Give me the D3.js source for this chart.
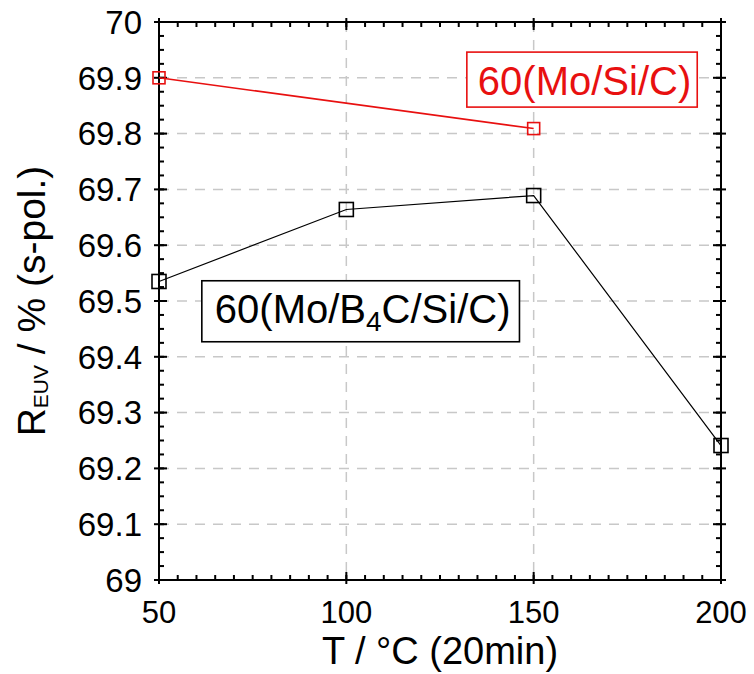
<!DOCTYPE html>
<html>
<head>
<meta charset="utf-8">
<script src="https://cdn.jsdelivr.net/npm/d3@7"></script>
<style>
  html, body { margin: 0; padding: 0; background: #fff; }
  svg { display: block; }
  text { font-family: "Liberation Sans", Arial, sans-serif; }
</style>
</head>
<body>
<script>
// ---- data ----
const moSiC = [
  { t: 50, r: 69.90 },
  { t: 150, r: 69.809 }
];
const moB4CSiC = [
  { t: 50, r: 69.535 },
  { t: 100, r: 69.664 },
  { t: 150, r: 69.689 },
  { t: 200, r: 69.241 }
];
const xTicks = [50, 100, 150, 200];
const yTicks = [69, 69.1, 69.2, 69.3, 69.4, 69.5, 69.6, 69.7, 69.8, 69.9, 70];
const yTickLabels = ["69", "69.1", "69.2", "69.3", "69.4", "69.5", "69.6", "69.7", "69.8", "69.9", "70"];

const W = 754, H = 674;
const margin = { left: 159, right: 33, top: 22, bottom: 94 };
const svg = d3.select("body").append("svg").attr("width", W).attr("height", H);

const x = d3.scaleLinear().domain([50, 200]).range([margin.left, W - margin.right]);
const y = d3.scaleLinear().domain([69, 70]).range([H - margin.bottom, margin.top]);
const x0 = x.range()[0], x1 = x.range()[1], y0 = y.range()[0], y1 = y.range()[1];

// gridlines
const grid = svg.append("g");
grid.selectAll("line.gx").data(xTicks.filter(d => d > 50 && d < 200)).join("line")
  .attr("x1", d => x(d)).attr("x2", d => x(d)).attr("y1", y1).attr("y2", y0)
  .attr("stroke", "#c8c8c8").attr("stroke-width", 1.5).attr("stroke-dasharray", "10,8");
grid.selectAll("line.gy").data(yTicks.filter(d => d > 69 && d < 70)).join("line")
  .attr("y1", d => y(d)).attr("y2", d => y(d)).attr("x1", x0).attr("x2", x1)
  .attr("stroke", "#c8c8c8").attr("stroke-width", 1.5).attr("stroke-dasharray", "10,8");

// frame
svg.append("rect").attr("x", x0).attr("y", y1).attr("width", x1 - x0).attr("height", y0 - y1)
  .attr("fill", "none").attr("stroke", "#000").attr("stroke-width", 2);

// ticks (drawn as thin filled rects)
const xMinor = d3.range(50, 200.001, 5);
const yMinor = d3.range(0, 40.001, 1).map(i => 69 + i * 0.025);
const tg = svg.append("g").attr("fill", "#000");
function hTicks(data, xStart, len) {
  tg.append("g").selectAll("rect").data(data).join("rect")
    .attr("x", xStart).attr("y", d => y(d) - 1).attr("width", len).attr("height", 2);
}
function vTicks(data, yStart, len) {
  tg.append("g").selectAll("rect").data(data).join("rect")
    .attr("x", d => x(d) - 1).attr("y", yStart).attr("width", 2).attr("height", len);
}
hTicks(yMinor, x0, 5);
hTicks(yMinor, x1 - 5, 5);
hTicks(yTicks, x0 - 5, 13);
hTicks(yTicks, x1 - 8, 13);
vTicks(xMinor, y0 - 5, 5);
vTicks(xMinor, y1, 5);
vTicks(xTicks, y0 - 8, 12);
vTicks(xTicks, y1 - 4, 12);

// tick labels
svg.append("g").selectAll("text").data(yTicks).join("text")
  .attr("x", x0 - 17).attr("y", d => y(d)).attr("dy", "0.36em")
  .attr("text-anchor", "end").attr("font-size", 33).attr("fill", "#000")
  .text((d, i) => yTickLabels[i]);
svg.append("g").selectAll("text").data(xTicks).join("text")
  .attr("x", d => x(d)).attr("y", y0 + 43)
  .attr("text-anchor", "middle").attr("font-size", 31).attr("fill", "#000")
  .text(d => d);

// axis titles
svg.append("text").attr("x", (x0 + x1) / 2).attr("y", H - 10)
  .attr("text-anchor", "middle").attr("font-size", 38).attr("fill", "#000")
  .text("T / °C (20min)");
const yt = svg.append("text")
  .attr("transform", `translate(45,${(y0 + y1) / 2}) rotate(-90)`)
  .attr("text-anchor", "middle").attr("font-size", 39).attr("fill", "#000");
yt.append("tspan").text("R");
yt.append("tspan").attr("font-size", 21).attr("dy", 3).text("EUV");
yt.append("tspan").attr("dy", -3).text(" / % (s-pol.)");

// lines
const line = d3.line().x(d => x(d.t)).y(d => y(d.r));
svg.append("path").datum(moB4CSiC).attr("d", line)
  .attr("fill", "none").attr("stroke", "#000").attr("stroke-width", 1.2);
svg.append("path").datum(moSiC).attr("d", line)
  .attr("fill", "none").attr("stroke", "#e81010").attr("stroke-width", 1.6);

// markers
svg.append("g").selectAll("rect").data(moB4CSiC).join("rect")
  .attr("x", d => x(d.t) - 7).attr("y", d => y(d.r) - 7).attr("width", 14).attr("height", 14)
  .attr("fill", "none").attr("stroke", "#000").attr("stroke-width", 1.6);
svg.append("g").selectAll("rect").data(moSiC).join("rect")
  .attr("x", d => x(d.t) - 6).attr("y", d => y(d.r) - 6).attr("width", 12).attr("height", 12)
  .attr("fill", "none").attr("stroke", "#e81010").attr("stroke-width", 1.6);

// labels
function label(tx, ry, color, build, pad) {
  const g = svg.append("g");
  const t = g.append("text").attr("x", x(tx)).attr("y", y(ry))
    .attr("font-size", 40).attr("fill", color);
  build(t);
  const b = t.node().getBBox();
  g.insert("rect", "text")
    .attr("x", b.x - pad[0]).attr("y", b.y - pad[1])
    .attr("width", b.width + pad[0] + pad[2]).attr("height", b.height + pad[1] + pad[3])
    .attr("fill", "#fff").attr("stroke", color).attr("stroke-width", 1.6);
}
label(135.1, 69.869, "#e81010", t => t.text("60(Mo/Si/C)"), [11, 7, 6, 4]);
label(64.9, 69.461, "#000", t => {
  t.append("tspan").text("60(Mo/B");
  t.append("tspan").attr("font-size", 28).attr("dy", 8).text("4");
  t.append("tspan").attr("dy", -8).text("C/Si/C)");
}, [13, 6, 9, 5]);
</script>
</body>
</html>
